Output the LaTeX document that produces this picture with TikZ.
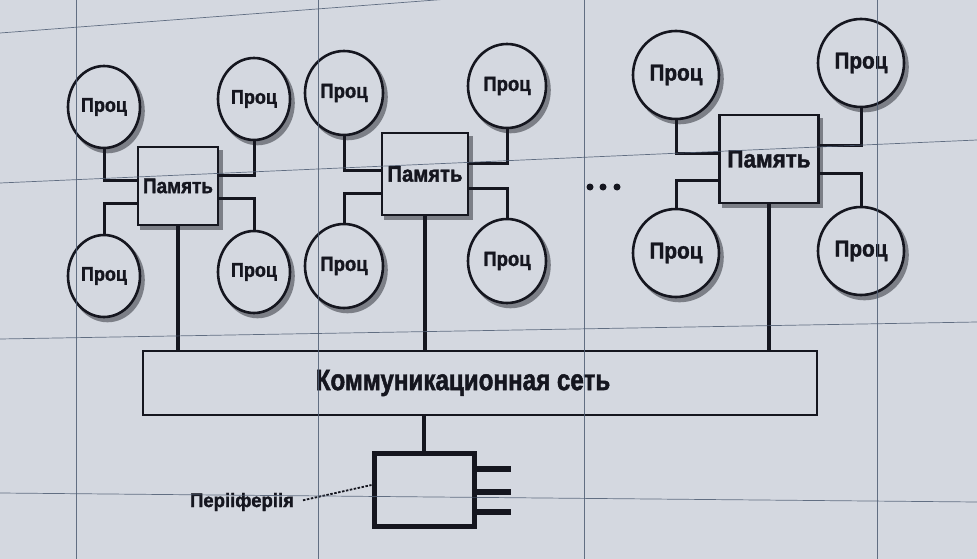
\documentclass[tikz,border=0pt]{standalone}
\usepackage{fontspec}
\setmainfont{Liberation Sans}
\newfontfamily\condfont[FakeStretch=0.9,BoldFeatures={FakeBold=1.6}]{Liberation Sans}
\newfontfamily\narrowfont[FakeStretch=0.82,BoldFeatures={FakeBold=1.6}]{Liberation Sans}
\newfontfamily\labelfont[FakeStretch=0.95,BoldFeatures={FakeBold=1.4}]{Liberation Sans}
\usetikzlibrary{shapes.geometric}
\definecolor{bg}{HTML}{D4D8E0}
\definecolor{ink}{HTML}{15161F}
\definecolor{gridc}{HTML}{4E5C72}
\definecolor{shad}{HTML}{7C7F87}
\newcommand\shadowed[5]{%
  \node[#1,draw=shad,fill=shad,xshift=3.5pt,yshift=-4pt] at (#3,#4) {};
  \node[#1] (#2) at (#3,#4) {#5};}
\begin{document}
\begin{tikzpicture}[x=1pt,y=-1pt,
  proc/.style={ellipse,draw=ink,line width=2.6pt,fill=bg,inner sep=0pt,text=ink},
  procA/.style={proc,minimum width=72pt,minimum height=82pt,font=\condfont\bfseries\fontsize{20}{22}\selectfont},
  procB/.style={proc,minimum width=78pt,minimum height=84pt,font=\condfont\bfseries\fontsize{20.5}{22}\selectfont},
  procC/.style={proc,minimum width=86pt,minimum height=88pt,font=\condfont\bfseries\fontsize{23}{25}\selectfont},
  mem/.style={rectangle,draw=ink,line width=2.5pt,fill=bg,inner sep=0pt,text=ink},
  memA/.style={mem,minimum width=80pt,minimum height=78pt,font=\condfont\bfseries\fontsize{21}{23}\selectfont},
  memB/.style={mem,minimum width=86pt,minimum height=82pt,font=\condfont\bfseries\fontsize{22.5}{24}\selectfont},
  memC/.style={mem,minimum width=99pt,minimum height=88pt,font=\condfont\bfseries\fontsize{25}{27}\selectfont},
  link/.style={draw=ink,line width=3pt},
  trunk/.style={draw=ink,line width=4.2pt},
  heavy/.style={draw=ink,line width=5.5pt},
  gridline/.style={draw=gridc,line width=0.7pt,opacity=0.85},
  dotn/.style={circle,fill=ink,minimum size=7pt,inner sep=0pt}
]
\useasboundingbox (0,0) rectangle (977,559);
\fill[bg] (0,0) rectangle (977,559);

% cluster 1
\shadowed{memA}{m1}{178}{186}{Память}
\shadowed{procA}{p11}{104}{107}{Проц}
\shadowed{procA}{p12}{254}{99}{Проц}
\shadowed{procA}{p13}{104}{276}{Проц}
\shadowed{procA}{p14}{254}{272}{Проц}
% cluster 2
\shadowed{memB}{m2}{425}{174}{Память}
\shadowed{procB}{p21}{344}{93}{Проц}
\shadowed{procB}{p22}{507}{86}{Проц}
\shadowed{procB}{p23}{344}{266}{Проц}
\shadowed{procB}{p24}{507}{261}{Проц}
% cluster 3
\shadowed{memC}{m3}{769}{159}{Память}
\shadowed{procC}{p31}{676}{75}{Проц}
\shadowed{procC}{p32}{861}{63}{Проц}
\shadowed{procC}{p33}{676}{253}{Проц}
\shadowed{procC}{p34}{861}{251}{Проц}

% dots
\node[dotn] (d1) at (590,187) {};
\node[dotn] (d2) at (603,187) {};
\node[dotn] (d3) at (617,187) {};

% network
\node[rectangle,draw=ink,line width=2.8pt,inner sep=0pt,minimum width=674pt,minimum height=64pt,
  label={[text=ink,font=\narrowfont\bfseries\fontsize{29.5}{31}\selectfont,xshift=-17pt]center:Коммуникационная сеть}] (net) at (480,383) {};

% periphery
\node[rectangle,draw=ink,line width=5pt,inner sep=0pt,minimum width=100pt,minimum height=73pt] (per) at (424,489.5) {};
\node[text=ink,font=\labelfont\bfseries\fontsize{19.5}{21}\selectfont,inner sep=1pt] (perl) at (242,502) {Перііферіія};
\coordinate (e1) at (511,469);
\coordinate (e2) at (511,492);
\coordinate (e3) at (511,512);

% connectors cluster 1
\draw[link] (p11.south) |- ([yshift=6pt]m1.west);
\draw[link] (p12.south) |- ([yshift=11pt]m1.east);
\draw[link] (p13.north) |- ([yshift=-17pt]m1.west);
\draw[link] (p14.north) |- ([yshift=-12pt]m1.east);
% cluster 2
\draw[link] (p21.south) |- ([yshift=4pt]m2.west);
\draw[link] (p22.south) |- ([yshift=11pt]m2.east);
\draw[link] (p23.north) |- ([yshift=-19pt]m2.west);
\draw[link] (p24.north) |- ([yshift=-14pt]m2.east);
% cluster 3
\draw[link] (p31.south) |- ([yshift=5pt]m3.west);
\draw[link] (p32.south) |- ([yshift=13pt]m3.east);
\draw[link] (p33.north) |- ([yshift=-21pt]m3.west);
\draw[link] (p34.north) |- ([yshift=-14pt]m3.east);

% trunks
\draw[trunk] (m1.south) -- (m1.south |- net.north);
\draw[trunk] (m2.south) -- (m2.south |- net.north);
\draw[trunk] (m3.south) -- (m3.south |- net.north);
\draw[trunk] (per.north) -- (per.north |- net.south);

% periphery ports
\draw[heavy] (per.east |- e1) -- (e1);
\draw[heavy] (per.east |- e2) -- (e2);
\draw[heavy] (per.east |- e3) -- (e3);
\draw[draw=ink,line width=1.8pt,dash pattern=on 2.5pt off 1.5pt,shorten <=8pt] (perl.east) -- ([yshift=4.5pt]per.west);

% screen seams
\begin{scope}
\clip (0,0) rectangle (977,559);
\draw[gridline] (76,0) -- (76,559);
\draw[gridline] (318,0) -- (318,559);
\draw[gridline] (584,0) -- (584,559);
\draw[gridline] (877,0) -- (877,559);
\draw[gridline] (0,33) -- (977,-41);
\draw[gridline] (0,183) -- (977,140);
\draw[gridline] (0,339) -- (977,322);
\draw[gridline] (0,493) -- (977,502);
\end{scope}
\end{tikzpicture}
\end{document}
